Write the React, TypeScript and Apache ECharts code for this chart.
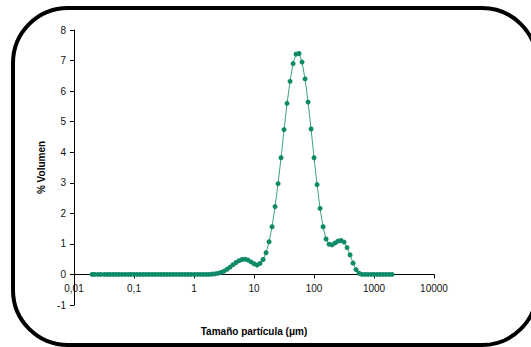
import React, { useEffect, useRef } from "react";
import * as echarts from "echarts";

// Particle size classes (µm)
const sizes: number[] = [
  0.02, 0.022, 0.025, 0.028, 0.032, 0.036, 0.04, 0.045, 0.05, 0.056,
  0.063, 0.071, 0.08, 0.089, 0.1, 0.112, 0.126, 0.142, 0.159, 0.178,
  0.2, 0.224, 0.252, 0.283, 0.317, 0.356, 0.399, 0.448, 0.502, 0.564,
  0.632, 0.71, 0.796, 0.893, 1.002, 1.125, 1.262, 1.416, 1.589, 1.783,
  2.0, 2.244, 2.518, 2.825, 3.17, 3.557, 3.991, 4.477, 5.024, 5.637,
  6.325, 7.096, 7.962, 8.934, 10.024, 11.247, 12.619, 14.159, 15.887, 17.825,
  20.0, 22.44, 25.179, 28.251, 31.698, 35.566, 39.905, 44.774, 50.238, 56.368,
  63.246, 70.963, 79.621, 89.337, 100.237, 112.468, 126.191, 141.589, 158.866, 178.25,
  200.0, 224.404, 251.785, 282.508, 316.979, 355.656, 399.052, 447.744, 502.377, 563.677,
  632.456, 709.627, 796.214, 893.367, 1002.374, 1124.683, 1261.915, 1415.892, 1588.656, 1782.502,
  2000.0,
];

// % Volume per class
const volume: number[] = [
  0, 0, 0, 0, 0, 0, 0, 0, 0, 0,
  0, 0, 0, 0, 0, 0, 0, 0, 0, 0,
  0, 0, 0, 0, 0, 0, 0, 0, 0, 0,
  0, 0, 0, 0, 0, 0, 0, 0, 0, 0,
  0.01, 0.02, 0.04, 0.07, 0.11, 0.17, 0.24, 0.32, 0.39, 0.45,
  0.49, 0.5, 0.47, 0.41, 0.35, 0.31, 0.36, 0.49, 0.71, 1.07,
  1.56, 2.22, 2.97, 3.82, 4.74, 5.6, 6.32, 6.9, 7.21, 7.23,
  6.95, 6.4, 5.64, 4.76, 3.82, 2.94, 2.16, 1.56, 1.16, 0.99,
  0.97, 1.03, 1.09, 1.11, 1.06, 0.88, 0.64, 0.37, 0.16, 0.04,
  0, 0, 0, 0, 0, 0, 0, 0, 0, 0,
  0,
];

const xTickLabels: string[] = ["0,01", "0,1", "1", "10", "100", "1000", "10000"];
const yTicks: number[] = [-1, 0, 1, 2, 3, 4, 5, 6, 7, 8];

export default function App() {
  const ref = useRef<HTMLDivElement>(null);

  useEffect(() => {
    if (!ref.current) return;
    const chart = echarts.init(ref.current, null, { renderer: "svg" });
    const font = "Liberation Sans, Arial, Helvetica, sans-serif";
    const zeroY = 275; // pixel row of y = 0 (30 + 275 * 8/9 ≈ 274.4)
    chart.setOption({
      animation: false,
      backgroundColor: "#ffffff",
      grid: [
        { left: 74, right: 97, top: 30, bottom: 42, outerBoundsMode: "none", containLabel: false },
        { left: 74, right: 97, top: zeroY - 31, height: 30.4, outerBoundsMode: "none", containLabel: false },
      ],
      xAxis: [
        {
          type: "log",
          gridIndex: 0,
          logBase: 10,
          min: 0.01,
          max: 10000,
          show: false,
        },
        {
          type: "log",
          gridIndex: 1,
          position: "bottom",
          logBase: 10,
          min: 0.01,
          max: 10000,
          name: "Tamaño partícula (μm)",
          nameLocation: "middle",
          nameGap: 52,
          nameTextStyle: { fontFamily: font, fontSize: 10, fontWeight: "bold", color: "#000" },
          axisLine: { show: true, onZero: false, lineStyle: { color: "#000", width: 1 } },
          axisTick: { show: true, inside: false, length: 4, lineStyle: { color: "#000" } },
          minorTick: { show: false },
          axisLabel: {
            margin: 9,
            fontFamily: font,
            fontSize: 10,
            color: "#111",
            formatter: (v: number) => {
              const i = Math.round(Math.log10(v)) + 2;
              return xTickLabels[i] ?? "";
            },
          },
          splitLine: { show: false },
        },
      ],
      yAxis: [
        {
          type: "value",
          gridIndex: 0,
          min: yTicks[0],
          max: yTicks[yTicks.length - 1],
          interval: 1,
          name: "% Volumen",
          nameLocation: "middle",
          nameGap: 25,
          nameTextStyle: { fontFamily: font, fontSize: 10, fontWeight: "bold", color: "#000" },
          axisLine: { show: true, onZero: false, lineStyle: { color: "#000", width: 1 } },
          axisTick: { show: true, inside: false, length: 4, lineStyle: { color: "#000" } },
          axisLabel: { margin: 8, fontFamily: font, fontSize: 10, color: "#111" },
          splitLine: { show: false },
        },
        {
          type: "value",
          gridIndex: 1,
          min: 0,
          max: 1,
          show: false,
        },
      ],
      graphic: [
        {
          type: "rect",
          z: -10,
          silent: true,
          shape: { x: 13, y: 8, width: 524, height: 337, r: 55 },
          style: { fill: "none", stroke: "#000", lineWidth: 4 },
        },
      ],
      series: [
        {
          type: "line",
          xAxisIndex: 0,
          yAxisIndex: 0,
          data: sizes.map((s, i) => [s, volume[i]]),
          symbol: "circle",
          symbolSize: 5,
          showSymbol: true,
          lineStyle: { color: "#3aa57c", width: 1 },
          itemStyle: { color: "#0f8a66", borderWidth: 0 },
          z: 3,
        },
      ],
    });
    return () => chart.dispose();
  }, []);

  return (
    <div
      ref={ref}
      style={{ position: "fixed", left: 0, top: 0, width: 531, height: 347, background: "#fff" }}
    />
  );
}
